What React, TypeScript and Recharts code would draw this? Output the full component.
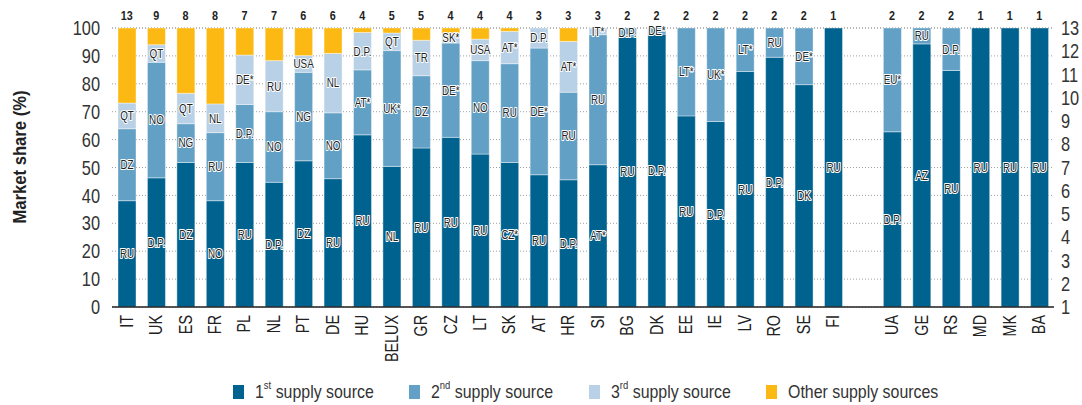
import React from 'react';
import { ComposedChart, Bar, Line, XAxis, YAxis, CartesianGrid, LabelList } from 'recharts';

const categories = ['IT','UK','ES','FR','PL','NL','PT','DE','HU','BELUX','GR','CZ','LT','SK','AT','HR','SI','BG','DK','EE','IE','LV','RO','SE','FI','','UA','GE','RS','MD','MK','BA'];
const sourceCounts = [13,9,8,8,7,7,6,6,4,5,5,4,4,4,3,3,3,2,2,2,2,2,2,2,1,null,2,2,2,1,1,1];

const firstShare = [38.1,46.3,51.8,38.1,51.8,44.7,52.4,46.0,61.7,50.4,57.0,60.8,54.8,51.8,47.4,45.6,51.0,96.8,97.8,68.5,66.5,84.4,89.5,79.7,100,null,62.8,94.3,84.8,100,100,100];
const secondShare = [25.8,41.4,13.9,24.4,20.8,25.3,31.7,23.6,23.3,41.5,25.9,33.8,33.5,35.4,45.4,31.4,46.6,3.2,2.2,31.5,33.5,15.6,10.5,20.3,0,null,37.2,5.7,15.2,0,0,0];
const thirdShare = [9.2,6.3,10.9,10.3,17.7,18.3,6.0,21.3,13.4,6.3,12.7,3.6,7.7,11.6,7.2,18.2,2.4,0,0,0,0,0,0,0,0,null,0,0,0,0,0,0];
const otherShare = [26.9,6.0,23.4,27.2,9.7,11.7,9.9,9.1,1.6,1.8,4.4,1.8,4.0,1.2,0,4.8,0,0,0,0,0,0,0,0,0,null,0,0,0,0,0,0];

const firstLabels = ['RU','D.P.','DZ','NO','RU','D.P.','DZ','RU','RU','NL','RU','RU','RU','CZ*','RU','D.P.','AT*','RU','D.P.','RU','D.P.','RU','D.P.','DK','RU','','D.P.','AZ','RU','RU','RU','RU'];
const secondLabels = ['DZ','NO','NG','RU','D.P.','NO','NG','NO','AT*','UK*','DZ','DE*','NO','RU','DE*','RU','RU','D.P.','DE*','LT*','UK*','LT*','RU','DE*','','','EU*','RU','D.P.','','',''];
const thirdLabels = ['QT','QT','QT','NL','DE*','RU','USA','NL','D.P.','QT','TR','SK*','USA','AT*','D.P.','AT*','IT*','','','','','','','','','','','','','','',''];

const leftTicks = [0,10,20,30,40,50,60,70,80,90,100];
const rightTicks = [1,2,3,4,5,6,7,8,9,10,11,12,13];

const seriesNames = ['1st supply source','2nd supply source','3rd supply source','Other supply sources'];
const seriesColors = ['#00628f','#62a0c5','#b8d1e6','#fdb913'];

const FONT = '"Liberation Sans", Arial, sans-serif';
const NARROW = 0.82;

const data = categories.map((cat, i) => ({
  cat,
  n: sourceCounts[i],
  s1: firstShare[i],
  s2: secondShare[i],
  s3: thirdShare[i],
  s4: otherShare[i],
  l1: firstLabels[i],
  l2: secondLabels[i],
  l3: thirdLabels[i],
}));

const SegLabel = (props: any) => {
  const { x, y, width, height, value } = props;
  if (!value || !height || Math.abs(height) < 1) return null;
  const cx = Number(x) + Number(width) / 2;
  const cy = Number(y) + Number(height) / 2;
  return (
    <text
      transform={`translate(${cx},${cy}) scale(${NARROW},1)`}
      textAnchor="middle"
      dominantBaseline="central"
      fontFamily={FONT}
      fontSize={12}
      fill="#222"
      stroke="#ffffff"
      strokeWidth={2.2}
      strokeLinejoin="round"
      style={{ paintOrder: 'stroke' }}
    >
      {value}
    </text>
  );
};

const BottomTick = (props: any) => {
  const { x, y, payload } = props;
  if (!payload.value) return null;
  return (
    <text
      transform={`translate(${x},${y}) rotate(-90) scale(${NARROW},1)`}
      textAnchor="end"
      dominantBaseline="central"
      fontFamily={FONT}
      fontSize={17.5}
      fill="#222"
    >
      {payload.value}
    </text>
  );
};

const TopTick = (props: any) => {
  const { x, y, payload } = props;
  const v = sourceCounts[payload.index];
  if (v == null) return null;
  return (
    <text transform={`translate(${x},${y}) scale(0.9,1)`} textAnchor="middle" fontFamily={FONT} fontWeight="bold" fontSize={12} fill="#222">
      {v}
    </text>
  );
};

const SideTick = (props: any) => {
  const { x, y, payload, anchor } = props;
  return (
    <text
      transform={`translate(${x},${y}) scale(${NARROW},1)`}
      textAnchor={anchor}
      dominantBaseline="central"
      fontFamily={FONT}
      fontSize={20}
      fill="#333"
    >
      {payload.value}
    </text>
  );
};

const YLabel = () => (
  <text
    transform="translate(20,157) rotate(-90) scale(0.9,1)"
    textAnchor="middle"
    dominantBaseline="central"
    fontFamily={FONT}
    fontWeight="bold"
    fontSize={18.5}
    fill="#222"
  >
    Market share (%)
  </text>
);

const legendLeft = [233, 409, 589, 766];

export default function App() {
  return (
    <div style={{ position: 'absolute', left: 0, top: 0, width: 1082, height: 405, background: '#fff' }}>
      <ComposedChart
        width={1082}
        height={405}
        data={data}
        margin={{ top: 0, right: 0, bottom: 0, left: 0 }}
        barSize={18}
      >
        <CartesianGrid yAxisId="left" xAxisId="bottom" vertical={false} stroke="#a0a0a0" strokeDasharray="1 2" />
        <XAxis
          dataKey="cat"
          xAxisId="bottom"
          height={98}
          tick={<BottomTick />}
          tickLine={false}
          tickSize={0}
          tickMargin={8}
          interval={0}
          axisLine={{ stroke: '#222', strokeWidth: 1.5 }}
        />
        <XAxis
          dataKey="cat"
          xAxisId="top"
          orientation="top"
          height={28}
          tick={<TopTick />}
          tickLine={false}
          tickSize={0}
          tickMargin={8}
          interval={0}
          axisLine={false}
        />
        <YAxis
          yAxisId="left"
          width={112}
          domain={[0, 100]}
          ticks={leftTicks}
          interval={0}
          tickLine={false}
          tickSize={0}
          tickMargin={12}
          axisLine={false}
          tick={<SideTick anchor="end" />}
          label={<YLabel />}
        />
        <YAxis
          yAxisId="right"
          orientation="right"
          width={28}
          domain={[1, 13]}
          ticks={rightTicks}
          interval={0}
          tickLine={false}
          tickSize={0}
          tickMargin={7}
          axisLine={false}
          tick={<SideTick anchor="start" />}
        />
        <Bar dataKey="s1" stackId="a" xAxisId="bottom" yAxisId="left" fill={seriesColors[0]} stroke="#ffffff" strokeWidth={0.4} isAnimationActive={false}>
          <LabelList dataKey="l1" content={<SegLabel />} />
        </Bar>
        <Bar dataKey="s2" stackId="a" xAxisId="bottom" yAxisId="left" fill={seriesColors[1]} stroke="#ffffff" strokeWidth={0.4} isAnimationActive={false}>
          <LabelList dataKey="l2" content={<SegLabel />} />
        </Bar>
        <Bar dataKey="s3" stackId="a" xAxisId="bottom" yAxisId="left" fill={seriesColors[2]} stroke="#ffffff" strokeWidth={0.4} isAnimationActive={false}>
          <LabelList dataKey="l3" content={<SegLabel />} />
        </Bar>
        <Bar dataKey="s4" stackId="a" xAxisId="bottom" yAxisId="left" fill={seriesColors[3]} stroke="#ffffff" strokeWidth={0.4} isAnimationActive={false} />
        <Line dataKey="n" xAxisId="bottom" yAxisId="right" stroke="none" dot={false} activeDot={false} legendType="none" isAnimationActive={false} />
      </ComposedChart>
      {seriesNames.map((name, i) => {
        const m = name.match(/^(\d)(st|nd|rd)(.*)$/);
        return (
          <div
            key={name}
            style={{
              position: 'absolute',
              left: legendLeft[i],
              top: 384,
              height: 16,
              display: 'flex',
              alignItems: 'center',
              fontFamily: FONT,
              fontSize: 18.5,
              color: '#333',
              whiteSpace: 'nowrap',
            }}
          >
            <span style={{ display: 'inline-block', width: 11, height: 14, background: seriesColors[i], marginRight: 11 }} />
            <span style={{ display: 'inline-block', transform: 'scaleX(0.86)', transformOrigin: 'left center' }}>
              {m ? (
                <>
                  {m[1]}
                  <sup style={{ fontSize: 11, verticalAlign: 'top', position: 'relative', top: -2 }}>{m[2]}</sup>
                  {m[3]}
                </>
              ) : (
                name
              )}
            </span>
          </div>
        );
      })}
    </div>
  );
}
